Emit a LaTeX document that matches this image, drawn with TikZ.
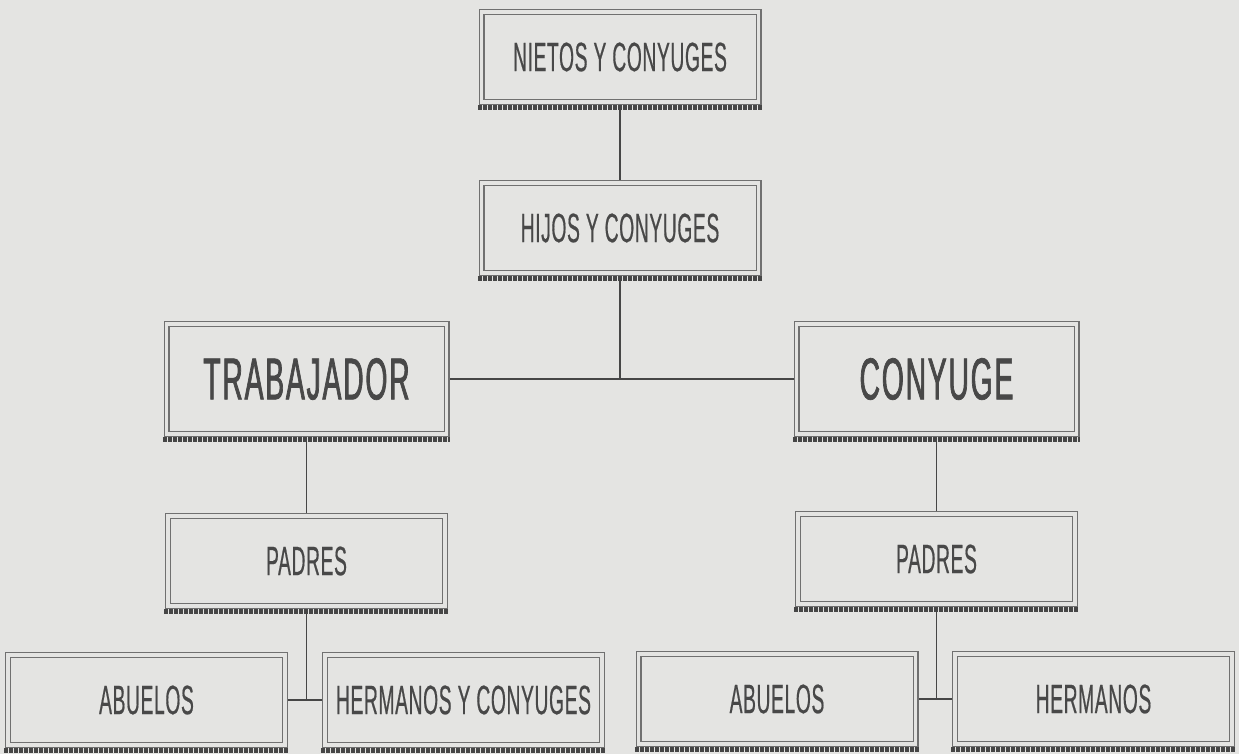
\documentclass[tikz,border=0pt]{standalone}
\usepackage{fontspec}
\newfontfamily\narrowsans{Liberation Sans}[FakeStretch=0.47, FakeBold=0.4, LetterSpace=1.5]
\newfontfamily\narrowbold{Liberation Sans}[FakeStretch=0.48, FakeBold=1.2, LetterSpace=3]
\usepackage{tikz}
\usetikzlibrary{positioning,backgrounds}
\definecolor{paper}{RGB}{228,228,226}
\definecolor{frame}{RGB}{112,112,112}
\definecolor{ink}{RGB}{72,72,72}
\definecolor{wire}{RGB}{70,70,70}
\tikzset{
  band/.style={draw=wire, line width=5pt, dash pattern=on 4pt off 1pt},
  link/.style={draw=wire, line width=1.6pt},
  member/.style={draw=frame, line width=1.2pt, double=paper, double distance=3.6pt,
    fill=paper, text=ink, inner sep=0pt, minimum width=277pt, minimum height=90pt,
    font=\narrowsans\fontsize{41}{41}\selectfont,
    append after command={([xshift=-3pt,yshift=-5pt]\tikzlastnode.south west)
      edge[band] ([xshift=3pt,yshift=-5pt]\tikzlastnode.south east)}},
  bigmember/.style={member, minimum width=280pt, minimum height=110pt,
    font=\narrowbold\fontsize{59}{59}\selectfont}
}

\begin{document}
\begin{tikzpicture}[x=1pt,y=-1pt,on grid]
  \useasboundingbox (0,0) rectangle (1239,754);
  \begin{scope}[on background layer]
    \fill[paper] (0,0) rectangle (1239,754);
  \end{scope}
  \node[member] (nietos) at (620,57) {NIETOS Y CONYUGES};
  \node[member] (hijos) [below=171pt of nietos] {HIJOS Y CONYUGES};
  \node[bigmember] (trab) [below left=151pt and 313.5pt of hijos] {TRABAJADOR};
  \node[bigmember] (cony) [below right=151pt and 316.5pt of hijos] {CONYUGE};
  \node[member] (padresT) [below=182pt of trab] {PADRES};
  \node[member] (padresC) [below=180pt of cony] {PADRES};
  \node[member] (abueT) [below left=139pt and 160pt of padresT] {ABUELOS};
  \node[member] (hermT) [below right=139pt and 157pt of padresT] {HERMANOS Y CONYUGES};
  \node[member] (abueC) [below left=140pt and 159.5pt of padresC] {ABUELOS};
  \node[member] (hermC) [below right=140pt and 157pt of padresC] {HERMANOS};
  \coordinate (union) at (hijos |- trab);
  \coordinate (sibT) at (padresT |- abueT);
  \coordinate (sibC) at (padresC |- abueC);
  % lines run under the boxes
  \begin{scope}[on background layer]
    \path[link]
    (nietos) -- (hijos)
    (trab) -- (cony)
    (hijos) -- (union)
    (trab) -- (padresT)
    (cony) -- (padresC)
    (padresT) -- (sibT)
    (abueT) -- (hermT)
    (padresC) -- (sibC)
    (abueC) -- (hermC)
    ;
  \end{scope}
\end{tikzpicture}
\end{document}
